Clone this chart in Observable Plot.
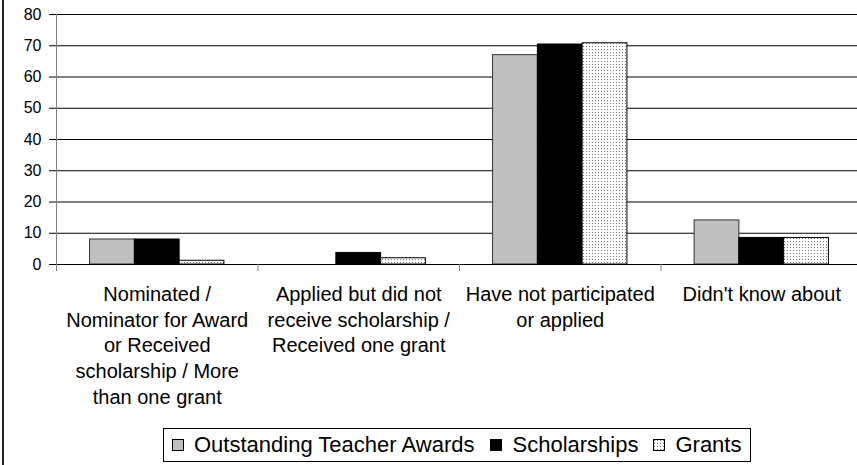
<!DOCTYPE html>
<html>
<head>
<meta charset="utf-8">
<script src="https://cdn.jsdelivr.net/npm/d3@7"></script>
<script src="https://cdn.jsdelivr.net/npm/@observablehq/plot@0.6"></script>
<style>
  html, body { margin: 0; padding: 0; background: #fff; }
  #wrap { position: relative; width: 857px; height: 465px; overflow: hidden; font-family: "Liberation Sans", Arial, sans-serif; }
  #frame { position: absolute; left: 2px; top: 0; width: 2px; height: 465px; background: #222; }
  #legend { position: absolute; left: 163px; top: 428px; width: 586px; height: 32px; border: 1px solid #000;
            display: flex; align-items: center; box-sizing: content-box; font-size: 22px; color: #000; }
  #legend .item { display: flex; align-items: center; }
  #legend svg { display: block; }
</style>
</head>
<body>
<div id="wrap">
  <div id="chart"></div>
  <div id="frame"></div>
  <div id="legend"></div>
</div>
<script>
const categoryLabels = [
  "Nominated /\nNominator for Award\nor Received\nscholarship / More\nthan one grant",
  "Applied but did not\nreceive scholarship /\nReceived one grant",
  "Have not participated\nor applied",
  "Didn't know about"
];
const seriesNames = ["Outstanding Teacher Awards", "Scholarships", "Grants"];
const awards = [8, 0, 67, 14.1];
const scholarships = [8, 3.7, 70.4, 8.5];
const grants = [1.2, 2.0, 70.8, 8.5];
const yTicks = [0, 10, 20, 30, 40, 50, 60, 70, 80];
const seriesFills = ["#c0c0c0", "#000000", "url(#dots)"];
const seriesStrokes = ["#333333", "#000000", "#000000"];

const seriesValues = [awards, scholarships, grants];
const data = [];
categoryLabels.forEach((c, i) => {
  seriesValues.forEach((vals, j) => {
    if (vals[i] > 0) data.push({cat: i, s: j, name: seriesNames[j], value: vals[i]});
  });
});

const barW = 2 / 9;       // share of a category step per bar
const groupPad = 1 / 6;   // gap on each side of a group

const chart = Plot.plot({
  width: 857,
  height: 425,
  marginTop: 14,
  marginBottom: 161,
  marginLeft: 56,
  marginRight: 0,
  style: {fontFamily: "'Liberation Sans', Arial, sans-serif", color: "#000", background: "transparent"},
  x: {type: "linear", domain: [0, 4], range: [56, 862]},
  y: {domain: [0, 80]},
  color: {domain: seriesNames, range: seriesFills},
  marks: [
    Plot.gridY({ticks: yTicks.filter(d => d > 0), stroke: "#000", strokeOpacity: 1}),
    Plot.rectY(data, {
      x1: d => d.cat + groupPad + d.s * barW,
      x2: d => d.cat + groupPad + (d.s + 1) * barW,
      y1: 0,
      y2: "value",
      fill: "name",
      stroke: d => seriesStrokes[d.s],
      strokeWidth: 1
    }),
    Plot.ruleX([0], {stroke: "#808080"}),
    Plot.ruleY([0], {stroke: "#000"}),
    Plot.axisY({ticks: yTicks, tickSize: 7, tickPadding: 8, fontSize: 16, label: null, stroke: "#000"}),
    Plot.axisX({ticks: [0, 1, 2, 3], tickSize: 7, tickFormat: () => "", label: null, stroke: "#808080"}),
    Plot.axisX({
      ticks: [0.5, 1.5, 2.5, 3.5],
      tickSize: 0,
      tickPadding: 18,
      tickFormat: d => categoryLabels[Math.floor(d)],
      fontSize: 20,
      lineHeight: 1.29,
      label: null
    })
  ]
});

chart.insertAdjacentHTML("afterbegin",
  '<defs><pattern id="dots" width="3" height="3" patternUnits="userSpaceOnUse">' +
  '<rect width="3" height="3" fill="#ffffff"/>' +
  '<rect x="1" y="1" width="1" height="1" fill="#7a7a7a"/>' +
  '</pattern></defs>');
document.getElementById("chart").appendChild(chart);

// Legend
const legend = document.getElementById("legend");
const gaps = [8, 16, 15];
seriesNames.forEach((name, j) => {
  const item = document.createElement("div");
  item.className = "item";
  item.style.marginLeft = gaps[j] + "px";
  const pat = j === 2
    ? '<defs><pattern id="ldots" width="3" height="3" patternUnits="userSpaceOnUse"><rect width="3" height="3" fill="#fff"/><rect x="1" y="1" width="1" height="1" fill="#7a7a7a"/></pattern></defs>'
    : "";
  const fill = j === 2 ? "url(#ldots)" : seriesFills[j];
  item.innerHTML =
    '<svg width="12" height="12">' + pat +
    '<rect x="0.5" y="0.5" width="11" height="11" fill="' + fill + '" stroke="#000"/></svg>' +
    '<span style="margin-left:10px;line-height:1">' + name + '</span>';
  legend.appendChild(item);
});
</script>
</body>
</html>
